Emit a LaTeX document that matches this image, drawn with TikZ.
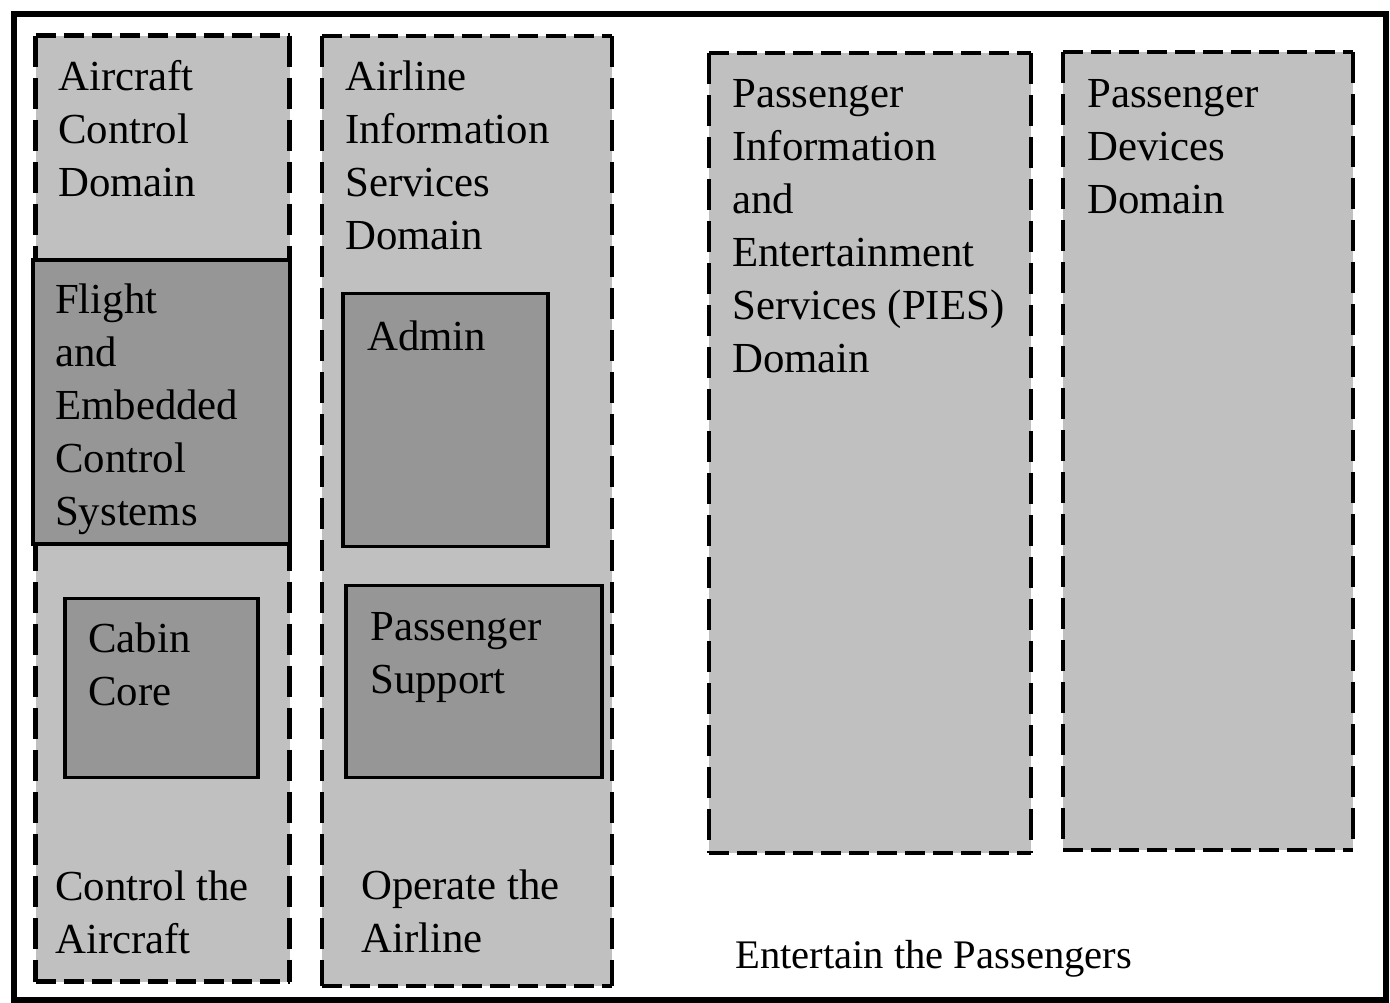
\documentclass[tikz,border=0pt]{standalone}
\usepackage{fontspec}
\setmainfont{Liberation Serif}
\definecolor{lightg}{RGB}{192,192,192}
\definecolor{darkg}{RGB}{150,150,150}
\begin{document}
\begin{tikzpicture}[x=1pt,y=-1pt,
  domainbox/.style={fill=lightg, draw=none, inner sep=0, outer sep=0, anchor=north west},
  subbox/.style={fill=darkg, draw=black, line width=3.2pt, inner sep=0, outer sep=0, anchor=north west},
  hdash/.style={line width=4.4pt, dash pattern=on 20pt off 8pt},
  vdash/.style={line width=4.4pt, dash pattern=on 31pt off 11pt},
  lbl/.style={anchor=base west, inner sep=0, font=\fontsize{42.8}{53}\selectfont},
  lbls/.style={anchor=base west, inner sep=0, font=\fontsize{40.6}{50}\selectfont}]
\useasboundingbox (0,0) rectangle (1390,1002);
\node[draw=black, line width=6pt, inner sep=0, anchor=north west, minimum width=1372pt, minimum height=986pt] (frame) at (10.5,10.5) {};

% domain boxes
\node[domainbox, minimum width=254pt, minimum height=946pt] (acd) at (35.5,35.5) {};
\node[domainbox, minimum width=290pt, minimum height=950pt] (aisd) at (322,36) {};
\node[domainbox, minimum width=322pt, minimum height=800pt] (pies) at (709,53) {};
\node[domainbox, minimum width=290pt, minimum height=798pt] (pdd) at (1063,52) {};
\foreach \b in {acd,aisd,pies,pdd}{
  \draw[hdash] (\b.north west) -- (\b.north east);
  \draw[hdash] (\b.south west) -- (\b.south east);
  \draw[vdash] (\b.north west) -- (\b.south west);
  \draw[vdash] (\b.north east) -- (\b.south east);
}

% sub boxes
\node[subbox, minimum width=257pt, minimum height=284pt] (fecs) at (33,260) {};
\node[subbox, minimum width=193pt, minimum height=179pt] (cc) at (65,598.5) {};
\node[subbox, minimum width=205pt, minimum height=253pt] (admin) at (343,293.5) {};
\node[subbox, minimum width=256pt, minimum height=192pt] (ps) at (346,585.5) {};

% labels
\node[lbl] (t1) at (58,90) {\begin{tabular}[t]{@{}l@{}}Aircraft\\Control\\Domain\end{tabular}};
\node[lbl] (t2) at (55,313) {\begin{tabular}[t]{@{}l@{}}Flight\\and\\Embedded\\Control\\Systems\end{tabular}};
\node[lbl] (t3) at (88,652) {\begin{tabular}[t]{@{}l@{}}Cabin\\Core\end{tabular}};
\node[lbl] (t4) at (55,900) {\begin{tabular}[t]{@{}l@{}}Control the\\Aircraft\end{tabular}};
\node[lbl] (t5) at (345,90) {\begin{tabular}[t]{@{}l@{}}Airline\\Information\\Services\\Domain\end{tabular}};
\node[lbl] (t6) at (367,350) {Admin};
\node[lbl] (t7) at (370,640) {\begin{tabular}[t]{@{}l@{}}Passenger\\Support\end{tabular}};
\node[lbl] (t8) at (361,899) {\begin{tabular}[t]{@{}l@{}}Operate the\\Airline\end{tabular}};
\node[lbl] (t9) at (732,107) {\begin{tabular}[t]{@{}l@{}}Passenger\\Information\\and\\Entertainment\\Services (PIES)\\Domain\end{tabular}};
\node[lbl] (t10) at (1087,107) {\begin{tabular}[t]{@{}l@{}}Passenger\\Devices\\Domain\end{tabular}};
\node[lbls] (t11) at (735,968) {Entertain the Passengers};
\end{tikzpicture}
\end{document}
